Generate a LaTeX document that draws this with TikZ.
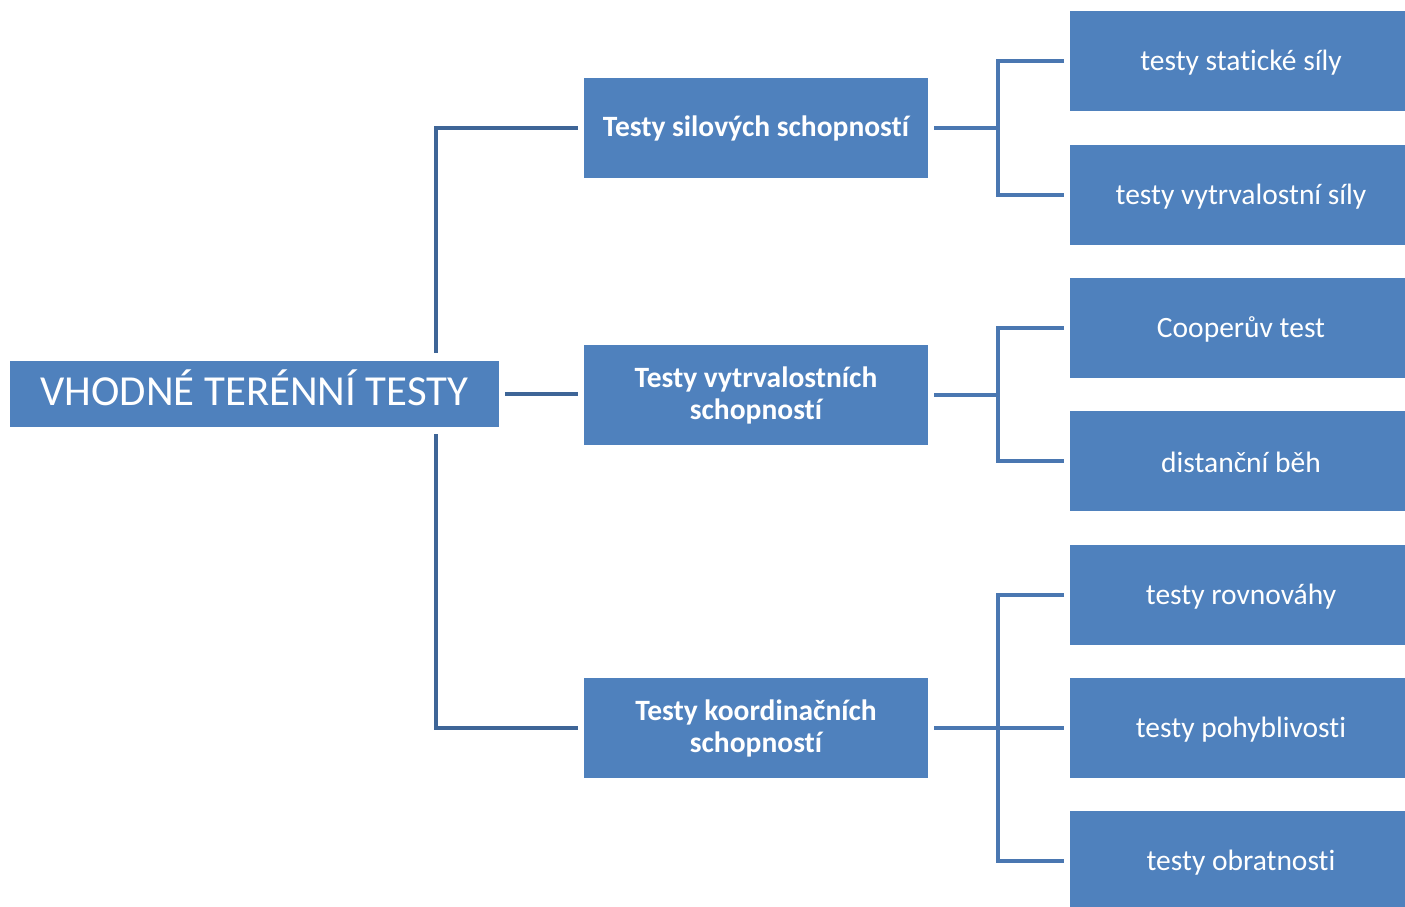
\documentclass[tikz,border=0pt]{standalone}
\usepackage{fontspec}
\setmainfont[RawFeature=-liga]{Carlito}
\definecolor{boxblue}{HTML}{4F81BD}
\definecolor{darkline}{HTML}{3E6597}
\definecolor{lightline}{HTML}{4A77B1}
\begin{document}
\begin{tikzpicture}[x=1pt,y=-1pt,
  box/.style={fill=boxblue,draw=none,text=white,inner sep=0pt,align=center},
  rootbox/.style={box,minimum width=489pt,minimum height=66pt,text height=23pt,text depth=0pt,font=\fontsize{42.8}{46}\selectfont},
  midbox/.style={box,minimum width=344pt,minimum height=100pt,font=\fontsize{29.5}{32}\selectfont\bfseries},
  leafbox/.style={box,minimum width=345pt,minimum height=100pt},
  leaftext/.style={text=white,font=\fontsize{29.5}{32}\selectfont,inner sep=0pt},
  lconn/.style={draw=darkline,line width=4pt},
  rconn/.style={draw=lightline,line width=4pt}]
\useasboundingbox (0,0) rectangle (1405,906);
\begin{scope}
\clip (0,0) rectangle (1405,906);
\node[rootbox] (root) at (254.5,394) {VHODNÉ TERÉNNÍ TESTY};
\node[midbox] (m1) at (756,128) {Testy silových schopností};
\node[midbox] (m2) at (756,395) {Testy vytrvalostních\\schopností};
\node[midbox] (m3) at (756,728) {Testy koordinačních\\schopností};
\node[leafbox,anchor=west] (l1) at (1070,61) {};
\node[leafbox,anchor=west] (l2) at (1070,195) {};
\node[leafbox,anchor=west] (l3) at (1070,328) {};
\node[leafbox,anchor=west] (l4) at (1070,461) {};
\node[leafbox,anchor=west] (l5) at (1070,595) {};
\node[leafbox,anchor=west] (l6) at (1070,728) {};
\node[leafbox,anchor=west] (l7) at (1070,861) {};
\end{scope}
\foreach \n/\t in {l1/testy statické síly,l2/testy vytrvalostní síly,l3/Cooperův test,l4/distanční běh,l5/testy rovnováhy,l6/testy pohyblivosti,l7/testy obratnosti}{
  \node[leaftext] (t\n) at ([xshift=171pt,yshift=-1.5pt]\n.west) {\t};
}
% left connectors
\coordinate (tx) at (436,0);
\coordinate (rtop) at ([yshift=8pt]root.north);
\coordinate (rbot) at ([yshift=-7pt]root.south);
\draw[lconn] ([xshift=6pt]root.east) -- ([xshift=-6pt]root.east -| m2.west);
\draw[lconn] (tx |- rtop) -- (tx |- m1.west) -- ([xshift=-6pt]m1.west);
\draw[lconn] (tx |- rbot) -- (tx |- m3.west) -- ([xshift=-6pt]m3.west);
% right connectors
\coordinate (bx) at (998,0);
\draw[rconn] ([xshift=6pt]m1.east) -- (bx |- m1.east);
\draw[rconn] ([xshift=-6pt]l1.west) -- (bx |- l1.west) -- (bx |- l2.west) -- ([xshift=-6pt]l2.west);
\draw[rconn] ([xshift=6pt]m2.east) -- (bx |- m2.east);
\draw[rconn] ([xshift=-6pt]l3.west) -- (bx |- l3.west) -- (bx |- l4.west) -- ([xshift=-6pt]l4.west);
\draw[rconn] ([xshift=6pt]m3.east) -- ([xshift=-6pt]l6.west);
\draw[rconn] ([xshift=-6pt]l5.west) -- (bx |- l5.west) -- (bx |- l7.west) -- ([xshift=-6pt]l7.west);
\end{tikzpicture}
\end{document}
